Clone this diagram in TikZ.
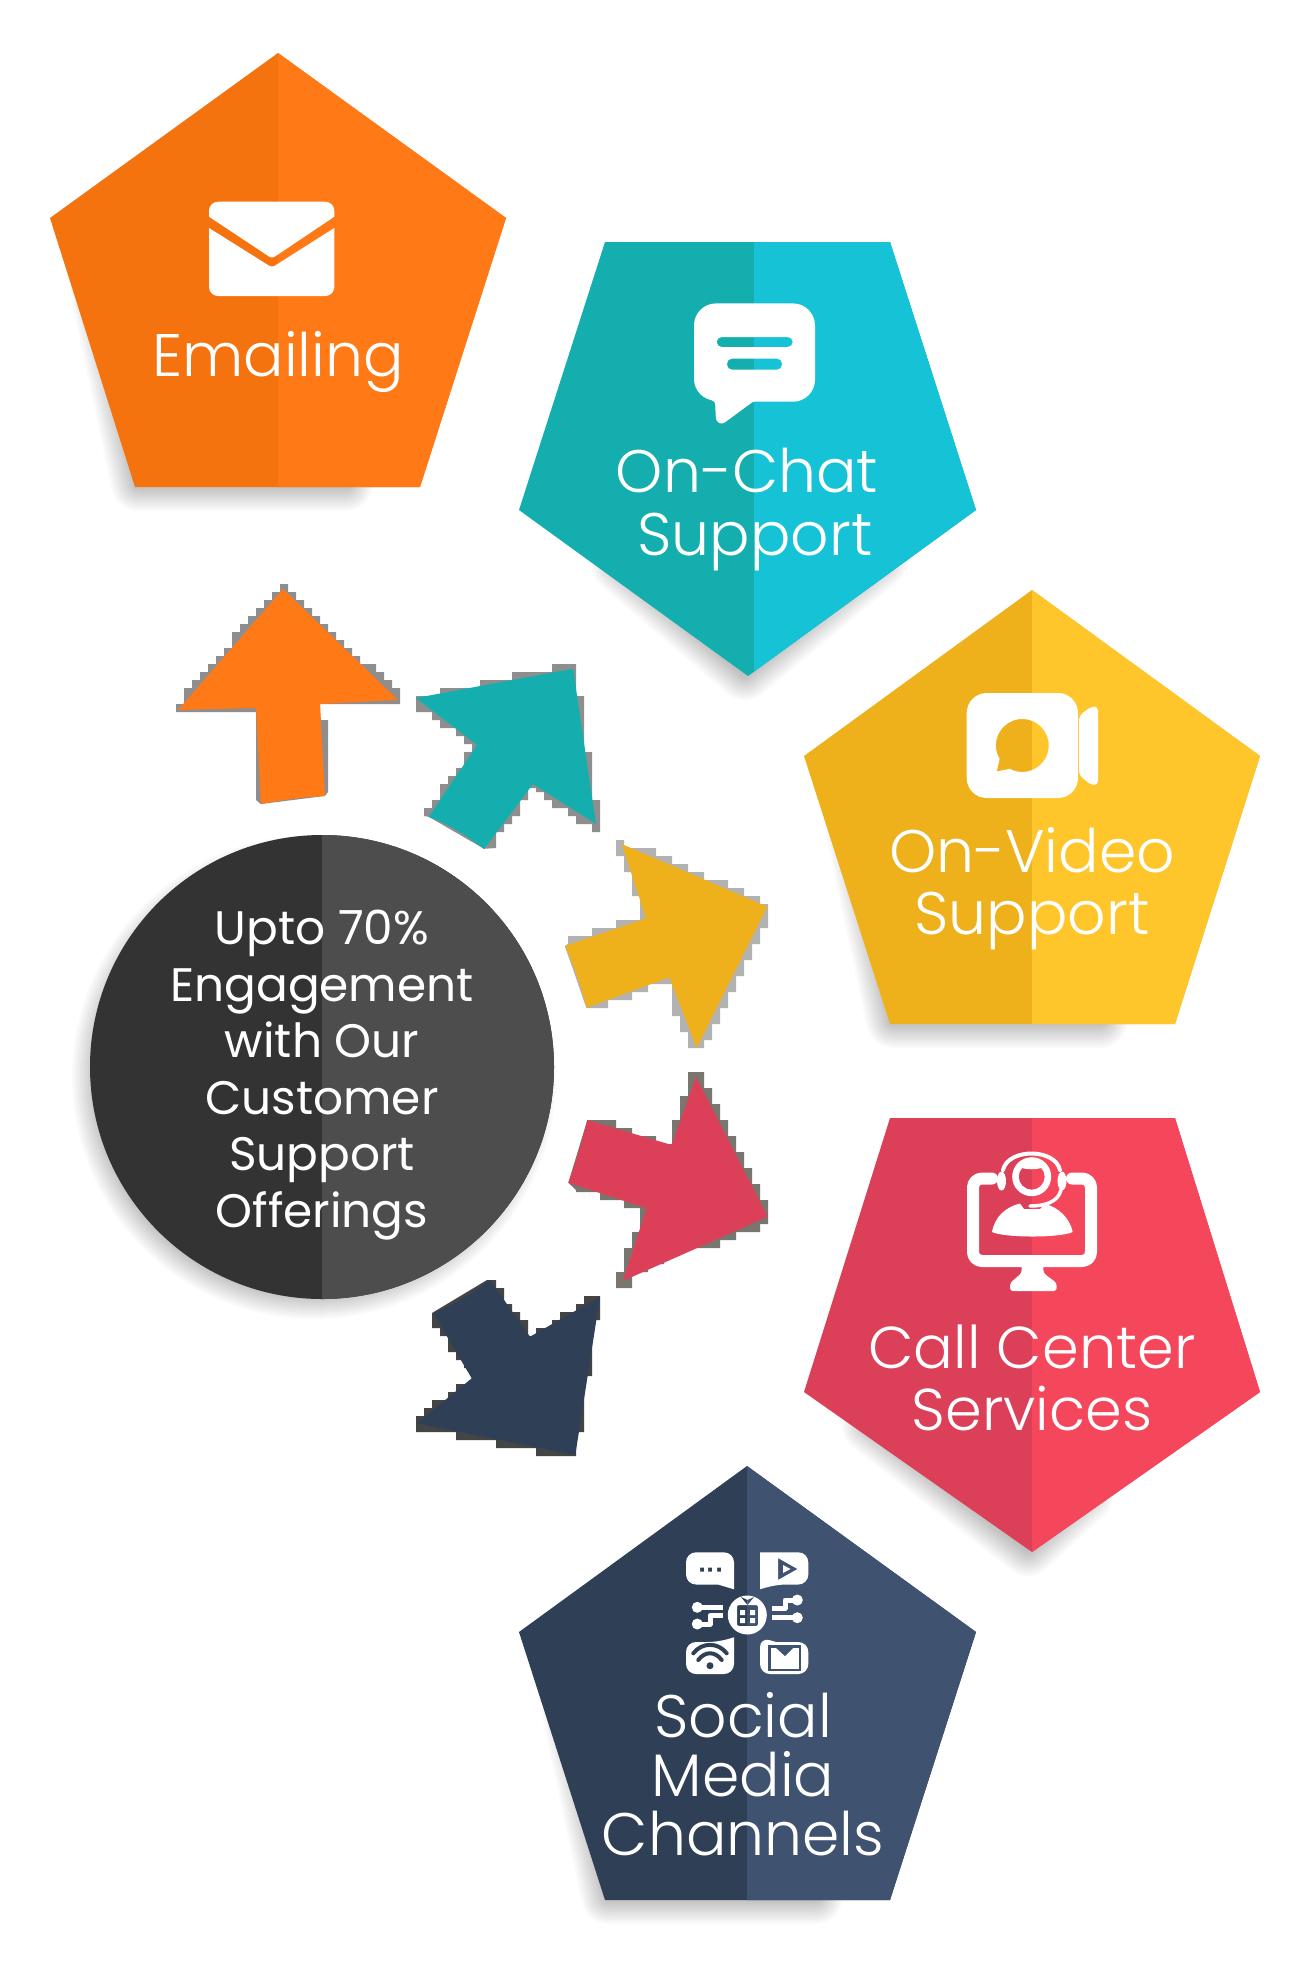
\documentclass[tikz,border=0pt]{standalone}
\usepackage{fontspec}
\setmainfont{Poppins}[UprightFont=* Light]
\newfontfamily\popreg{Poppins}
\definecolor{ordk}{HTML}{F5730F}\definecolor{orlt}{HTML}{FF7A16}
\definecolor{tedk}{HTML}{14AEAF}\definecolor{telt}{HTML}{16C2D5}
\definecolor{yedk}{HTML}{EEB11C}\definecolor{yelt}{HTML}{FFC62B}
\definecolor{redk}{HTML}{DC3F58}\definecolor{relt}{HTML}{F5475B}
\definecolor{nadk}{HTML}{2F3F56}\definecolor{nalt}{HTML}{3F5370}
\definecolor{cidk}{HTML}{333333}\definecolor{cilt}{HTML}{4D4D4D}
\definecolor{fringeA}{HTML}{8E8E8E}\definecolor{fringeB}{HTML}{B2B2B2}
\definecolor{fringeC}{HTML}{77776F}\definecolor{fringeD}{HTML}{444444}
\tikzset{
  softlayer/.style={draw=black,fill=black,opacity=.02,line join=round,line width=#1},
  lbl/.style={text=white,align=center,inner sep=0pt},
  big/.style={lbl,font=\fontsize{60}{#1}\selectfont},
  icon/.style={fill=white},
  ioline/.style={draw=white,line cap=round,line join=round}
}
\newcommand{\twotone}[4]{%
  \fill[#3] #1;
  \begin{scope}\clip (#2,0) rectangle (1310,1978);\fill[#4] #1;\end{scope}}
\newcommand{\softshade}[1]{%
  \foreach \w in {4,8,12,16,20,24,28,32,36,40,44,48,52,56}{\draw[softlayer=\w pt] #1;}}
\begin{document}
\begin{tikzpicture}[x=1pt,y=-1pt]
\useasboundingbox (0,0) rectangle (1310,1978);
\fill[white] (0,0) rectangle (1310,1978);

% soft shadows
\softshade{(100,300) -- (139,483) -- (345,483) -- (345,440) -- cycle}
\softshade{(620,565) -- (745,672) -- (880,560) -- (748,600) -- cycle}
\softshade{(855,837) -- (894,1020) -- (1100,1020) -- (1100,977) -- cycle}
\softshade{(870,1425) -- (1028,1548) -- (1085,1495) -- (1032,1480) -- cycle}
\softshade{(570,1713) -- (609,1896) -- (815,1896) -- (815,1853) -- cycle}
\softshade{(314,1077) circle[radius=214pt]}

% pentagons
\twotone{(278,53) -- (506,218) -- (420,487) -- (135,487) -- (50,218) -- cycle}{278}{ordk}{orlt}
\twotone{(605,242) -- (890,242) -- (976,510) -- (748,676) -- (519,510) -- cycle}{754}{tedk}{telt}
\twotone{(1032,590) -- (1260,756) -- (1175,1024) -- (890,1024) -- (804,756) -- cycle}{1032}{yedk}{yelt}
\twotone{(890,1118) -- (1175,1118) -- (1260,1392) -- (1032,1552) -- (804,1392) -- cycle}{1032}{redk}{relt}
\twotone{(747,1466) -- (976,1632) -- (890,1900) -- (605,1900) -- (519,1632) -- cycle}{747}{nadk}{nalt}
% circle
\twotone{(322,1067) circle[radius=232pt]}{322}{cidk}{cilt}

% arrow: orange
\begin{scope}[shift={(168,576)},x=8pt,y=-8pt]
\fill[fringeA] (14,1) -- (15,1) |- (16,2) |- (17,3) |- (18,4) |- (19,5) |- (20,6) |- (21,7) |- (22,8) |- (23,9) |- (24,10) |- (26,11) |- (27,12) |- (28,13) |- (29,14) -- (29,16) -- (19,16) -- (19,18) -- (20,18) -- (20,27) -- (19.6,27.5) -- (11.6,28.5) -- (11,28) -- (11,17) -- (1,17) |- (2,16) |- (3,14) |- (4,13) |- (5,12) |- (6,11) |- (7,10) |- (8,9) |- (9,7) |- (10,6) |- (11,5) |- (12,4) |- (13,3) |- (14,2) -- cycle;
\end{scope}
\fill[orlt] (283,589) -- (398,700) -- (320,704) -- (325,796) .. controls (303,797) and (282,800) .. (261,804) -- (256,708) -- (178,710) -- cycle;

% arrow: teal
\begin{scope}[shift={(408,656)},x=8pt,y=-8pt]
\fill[fringeA] plot coordinates {(1,5)(4,5)(4,4)(9,4)(9,3)(13,3)(13,2)(18,2)(18,1)(21,1)(21,5)(22,5)(22,12)(23,12)(23,18)(24,18)(24,22)(23,22)(23,21)(21,21)(21,20)(20,20)(20,19)(18,19)(18,18)(17,18)(17,17)(16,17)(16,16.5)(15,16.5)(15,18)(14,18)(14,20)(13,20)(13,21)(12,21)(12,22)(11,22)(11,24)(9.5,24.1)(2.6,20.1)(2,20)(2,19)(3,19)(3,18)(4,18)(4,16)(5,16)(5,15)(6,15)(6,14)(7,14)(7,12)(8,12)(8,11)(7,11)(7,10)(6,10)(6,9)(4,9)(4,8)(3,8)(3,7)(1,7)} -- cycle;
\end{scope}
\fill[tedk] (573,668.7) -- (596,824) -- (533,784) -- (484,849) .. controls (466,835) and (448,824) .. (428.7,817) -- (477,745) -- (416,698) -- cycle;

% arrow: yellow
\begin{scope}[shift={(560,840)},x=8pt,y=-8pt]
\fill[fringeB] plot coordinates {(7,0)(8,0)(8,1)(12,1)(12,2)(14,2)(14,3)(16,3)(16,4)(18,4)(18,5)(21,5)(21,6)(23,6)(23,7)(25,7)(25,8)(26,8)(26,11)(25,11)(25,13)(24,13)(24,15)(23,15)(23,17)(22,17)(22,19)(21,19)(21,21)(20,21)(20,23)(19,23)(19,25)(18,25)(18,26)(16,26)(16,24)(15,24)(15,22)(14,22)(14,18)(11,18)(11,19)(9,19)(9,20)(6,20)(6,21)(3.3,21)(0.6,13.25)(1,13)(1,12)(4,12)(4,11)(7,11)(7,10)(10,10)(10,7)(9,7)(9,4)(8,4)(8,2)(7,2)} -- cycle;
\end{scope}
\fill[yedk] (767.3,906.7) -- (696.7,1048) -- (669.3,977.3) -- (586.7,1007.7) .. controls (581,987) and (574,966) .. (565,946) -- (646,918.3) -- (621.7,844) -- cycle;

% arrow: red
\fill[fringeC] plot coordinates {(688,1072)(704,1072)(704,1088)(712,1088)(712,1104)(720,1104)(720,1120)(728,1120)(728,1136)(736,1136)(736,1152)(744,1152)(744,1168)(752,1168)(752,1184)(760,1184)(760,1200)(768,1200)(768,1224)(760,1224)(760,1232)(736,1232)(736,1240)(720,1240)(720,1248)(680,1248)(680,1256)(664,1256)(664,1264)(648,1264)(648,1272)(632,1272)(632,1288)(616,1288)(616,1272)(624,1272)(624,1248)(632,1248)(632,1232)(640,1232)(640,1208)(624,1208)(624,1200)(600,1200)(600,1192)(576,1192)(576,1190)(568.3,1182.7)(587.3,1120)(616,1120)(616,1128)(632,1128)(632,1136)(656,1136)(656,1144)(672,1144)(672,1120)(680,1120)(680,1096)(688,1096)} -- cycle;
\fill[redk] (767.7,1216.7) -- (622.7,1281) -- (646.7,1208.3) -- (568.3,1182.7) .. controls (576,1162) and (582,1141) .. (587.3,1120) -- (671.7,1145) -- (696,1076.7) -- cycle;

% arrow: navy
\fill[fringeD] plot coordinates {(487,1280)(496,1280)(496,1288)(504,1288)(504,1304)(512,1304)(512,1312)(520,1312)(520,1320)(528,1320)(528,1336)(536,1336)(536,1328)(552,1328)(552,1320)(560,1320)(560,1312)(576,1312)(576,1304)(584,1304)(584,1296)(600,1296)(600,1320)(592,1320)(592,1376)(584,1376)(584,1432)(576,1432)(576,1456)(536,1456)(536,1448)(496,1448)(496,1440)(456,1440)(456,1432)(416,1432)(416,1416)(424,1416)(424,1408)(432,1408)(432,1400)(448,1400)(448,1392)(456,1392)(456,1384)(472,1384)(472,1368)(464,1368)(464,1360)(456,1360)(456,1352)(448,1352)(448,1336)(440,1336)(440,1328)(432,1328)(432,1313)} -- cycle;
\fill[nadk] (600,1296.7) -- (575.3,1455) -- (416.7,1423.3) -- (471.7,1378.3) -- (433.3,1313.3) .. controls (453,1305) and (472,1294) .. (490,1280) -- (530,1336.7) -- cycle;

% envelope icon
\fill[icon] (209,216.7) -- (209,210.7) arc[start angle=180,end angle=90,radius=9pt] -- (325.3,201.7) arc[start angle=90,end angle=0,radius=9pt] -- (334.3,216.7) [rounded corners=3pt] -- (272,258.5) [sharp corners] -- cycle;
\fill[icon] (209,228) [rounded corners=3pt] -- (272,267.5) [sharp corners] -- (334.3,228) [rounded corners=9pt] -- (334.3,296) -- (209,296) [sharp corners] -- cycle;

% chat icon
\fill[icon,even odd rule]
  [rounded corners=22pt] (694,303.4) -- (815,303.4) -- (815,401.7) [rounded corners=1pt] -- (753,401.7) [rounded corners=3pt] -- (722,424.5) -- (716,421) -- (715,400.7) [rounded corners=22pt] -- (694,400.7) -- cycle
  [rounded corners=5pt] (716.7,337) -- (792.7,337) -- (792.7,347) -- (716.7,347) -- cycle
  (727,358.6) -- (782,358.6) -- (782,369.7) -- (727,369.7) -- cycle;

% video icon
\fill[icon,even odd rule]
  [rounded corners=20pt] (966.7,693) -- (1078,693) -- (1078,798) -- (966.7,798) -- cycle
  [sharp corners] (999.6,759.1) arc[start angle=211,end angle=-118,radius=26.5pt] -- (996.7,771.4) -- cycle;
\fill[icon,rounded corners=4pt] (1079,716) -- (1091,706.6) -- (1098,706.6) -- (1098,785) -- (1091,785) -- (1079,775) -- cycle;

% agent icon
\draw[ioline,line width=12pt,rounded corners=9pt] (992,1178.5) -- (973,1178.5) -- (973,1261) -- (1091,1261) -- (1091,1178.5) -- (1072,1178.5);
\fill[icon,rounded corners=3pt] (1021.7,1262) -- (1043.3,1262) -- (1043.3,1273) -- (1056.7,1283) -- (1056.7,1291) -- (1010,1291) -- (1010,1283) -- (1021.7,1273) -- cycle;
\fill[icon,even odd rule] (1031.7,1176.7) circle[radius=19.5pt] (1031.7,1176.7) circle[radius=13pt];
\fill[icon] (1020,1167) .. controls (1024,1170) and (1039,1170) .. (1043,1167) .. controls (1040,1161) and (1023,1161) .. (1020,1167) -- cycle;
\draw[ioline,line width=4pt] (1003,1170) .. controls (1008,1148) and (1055,1148) .. (1060,1170);
\fill[icon] (1001.5,1181) ellipse[x radius=4.5pt,y radius=9.5pt];
\fill[icon] (1062,1181) ellipse[x radius=4.5pt,y radius=9.5pt];
\draw[ioline,line width=3.5pt] (1061,1190) .. controls (1058,1202) and (1045,1206) .. (1030,1206);
\fill[icon] (992,1232) .. controls (995,1216) and (1006,1207) .. (1020,1203.5) -- (1024,1209) -- (1040,1209) -- (1045,1204) .. controls (1058,1207) and (1070,1218) .. (1072.7,1232) .. controls (1060,1238) and (1005,1238) .. cycle;

% social icon: four bubbles
\fill[icon,even odd rule]
  [rounded corners=10pt] (686,1552.3) -- (734,1552.3) [sharp corners] -- (734,1589.3) -- (718,1584.5) [rounded corners=10pt] -- (686,1584.5) -- cycle
  [sharp corners] (700,1567.5) rectangle (704,1571.5) (708,1567.5) rectangle (712,1571.5) (717,1567.5) rectangle (721,1571.5);
\fill[icon,even odd rule]
  [rounded corners=10pt] (760,1552.3) -- (808.3,1552.3) -- (808.3,1584.5) -- (776,1584.5) [sharp corners] -- (760,1589.3) -- cycle
  (778,1558) -- (797.5,1569) -- (778,1580) -- cycle
  (783,1565) -- (790.5,1569) -- (783,1573) -- cycle;
\fill[icon]
  [rounded corners=10pt] (686,1642) -- (718,1642) [sharp corners] -- (734,1637.3) [rounded corners=10pt] -- (734,1674) -- (686,1674) -- cycle;
\draw[nadk,line width=4pt,line cap=round] (698.3,1660) .. controls (705,1651) and (715,1651) .. (721.7,1660);
\draw[nadk,line width=4pt,line cap=round] (693.3,1653.3) .. controls (702,1642) and (718,1642) .. (726.7,1653.3);
\fill[nadk] (710,1665.7) circle[radius=3.5pt];
\fill[icon]
  [sharp corners] (760,1637.3) -- (776,1642) [rounded corners=10pt] -- (808.3,1642) -- (808.3,1674) -- (760,1674) -- cycle;
\draw[nalt,line width=2.5pt] (769.3,1646.7) rectangle (800,1670);
\fill[nalt] (775,1647) -- (794,1647) -- (785,1656) -- cycle;

% social icon: circuits
\draw[ioline,line width=5pt,line cap=butt] (697.3,1607.3) -- (723.3,1607.3);
\draw[ioline,line width=5pt,line cap=butt] (697.3,1624) -- (710,1624) -- (710,1615.7) -- (723.3,1615.7);
\draw[ioline,line width=5pt,line cap=butt] (797.3,1600) -- (785,1600) -- (785,1608.3) -- (771.7,1608.3);
\draw[ioline,line width=5pt,line cap=butt] (797.3,1617.7) -- (771.7,1617.7);
\fill[icon] (697.3,1607.3) circle[radius=5.5pt] (697.3,1624) circle[radius=5.5pt] (797.3,1600) circle[radius=5.5pt] (797.3,1617.7) circle[radius=5.5pt];

% social icon: centre gift
\fill[icon,even odd rule] (747.3,1615) circle[radius=19.5pt]
  [rounded corners=2pt] (737,1605) -- (758,1605) -- (758,1626) -- (737,1626) -- cycle
  [sharp corners] (740,1610) rectangle (745,1615) (750,1610) rectangle (755,1615)
  (740,1618) rectangle (745,1623) (750,1618) rectangle (755,1623);
\fill[nadk] (741,1597) -- (747.5,1605) -- (747.5,1600) -- cycle;
\fill[nalt] (754,1597) -- (747.5,1605) -- (747.5,1600) -- cycle;

% labels
\node[big=63] (lblA) at (278,362) {Emailing};
\node[big=63] (lblB) at (755,509.5) {On-Chat\kern16pt\relax\\Support};
\node[big=62] (lblC) at (1032,888.5) {On-Video\\Support};
\node[lbl,font=\fontsize{59}{62}\selectfont] (lblD) at (1032,1378) {Call Center\\Services};
\node[big=59] (lblE) at (743,1774) {Social\\Media\\Channels};
\node[lbl,font=\popreg\fontsize{47}{56.5}\selectfont] (lblF) at (322,1075) {Upto 70\%\\Engagement\\with Our\\Customer\\Support\\Offerings};
\end{tikzpicture}
\end{document}
